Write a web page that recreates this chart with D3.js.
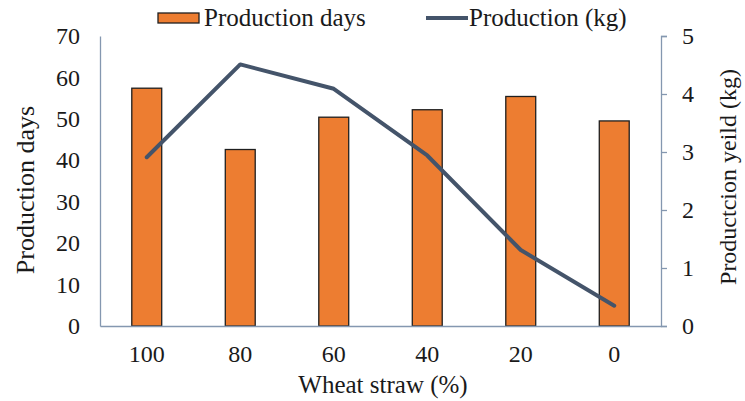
<!DOCTYPE html>
<html>
<head>
<meta charset="utf-8">
<script src="https://cdn.jsdelivr.net/npm/d3@7"></script>
<style>
  html, body { margin: 0; padding: 0; background: #fff; }
  svg { display: block; font-family: "Liberation Serif", "Times New Roman", serif; }
</style>
</head>
<body>
<svg id="chart" width="745" height="401"></svg>
<script>
// Wheat straw share in substrate vs. production days and yield
const categories = ["100", "80", "60", "40", "20", "0"];
const productionDays = [57.4, 42.6, 50.4, 52.2, 55.4, 49.5];
const productionKg = [2.91, 4.51, 4.09, 2.94, 1.31, 0.35];
const leftTicks = [0, 10, 20, 30, 40, 50, 60, 70];
const rightTicks = [0, 1, 2, 3, 4, 5];

const svg = d3.select("#chart");
const margin = { left: 100, right: 84, top: 36, bottom: 75 };
const W = 745, H = 401;
const x0 = margin.left, x1 = W - margin.right;
const yTop = margin.top, yBot = H - margin.bottom;

const axisColor = "#8497B0";
const barColor = "#ED7D31";
const lineColor = "#44546A";
const textColor = "#1a1a1a";
const serif = "Liberation Serif";

const x = d3.scaleBand().domain(categories).range([x0, x1]).paddingInner(0).paddingOuter(0);
const yL = d3.scaleLinear().domain([0, 70]).range([yBot, yTop]);
const yR = d3.scaleLinear().domain([0, 5]).range([yBot, yTop]);

const barW = x.bandwidth() * 0.32;

// bars
svg.append("g").selectAll("rect")
  .data(productionDays)
  .join("rect")
  .attr("x", (d, i) => x(categories[i]) + x.bandwidth() / 2 - barW / 2)
  .attr("y", d => yL(d))
  .attr("width", barW)
  .attr("height", d => yL(0) - yL(d))
  .attr("fill", barColor)
  .attr("stroke", "#1f1f1f")
  .attr("stroke-width", 1.3);

// left axis (no ticks)
const gL = svg.append("g").attr("transform", `translate(${x0},0)`)
  .call(d3.axisLeft(yL).tickValues(leftTicks).tickSize(0).tickPadding(20));
gL.select(".domain").attr("stroke", axisColor).attr("stroke-width", 1.3);
gL.selectAll("text").attr("font-family", serif).attr("font-size", 24).attr("fill", textColor);

// right axis
const gR = svg.append("g").attr("transform", `translate(${x1},0)`)
  .call(d3.axisRight(yR).tickValues(rightTicks).tickFormat(d3.format("d"))
    .tickSizeInner(6).tickSizeOuter(6).tickPadding(15));
gR.select(".domain").attr("stroke", axisColor).attr("stroke-width", 1.3);
gR.selectAll(".tick line").attr("stroke", axisColor).attr("stroke-width", 1.3);
gR.selectAll("text").attr("font-family", serif).attr("font-size", 24).attr("fill", textColor);

// bottom axis
const gB = svg.append("g").attr("transform", `translate(0,${yBot})`)
  .call(d3.axisBottom(x).tickSize(0).tickPadding(19));
gB.select(".domain").attr("stroke", axisColor).attr("stroke-width", 1.3);
gB.selectAll("text").attr("font-family", serif).attr("font-size", 24).attr("fill", textColor);

// line
const line = d3.line()
  .x((d, i) => x(categories[i]) + x.bandwidth() / 2)
  .y(d => yR(d));
svg.append("path")
  .datum(productionKg)
  .attr("d", line)
  .attr("fill", "none")
  .attr("stroke", lineColor)
  .attr("stroke-width", 4)
  .attr("stroke-linejoin", "round")
  .attr("stroke-linecap", "round");

// axis titles
svg.append("text")
  .attr("transform", `translate(34,${190}) rotate(-90)`)
  .attr("text-anchor", "middle")
  .attr("font-family", serif).attr("font-size", 26).attr("fill", textColor)
  .text("Production days");

svg.append("text")
  .attr("transform", `translate(736,${177}) rotate(-90)`)
  .attr("text-anchor", "middle")
  .attr("font-family", serif).attr("font-size", 24).attr("fill", textColor)
  .text("Productcion yeild (kg)");

svg.append("text")
  .attr("x", 383)
  .attr("y", 393)
  .attr("text-anchor", "middle")
  .attr("font-family", serif).attr("font-size", 25).attr("fill", textColor)
  .text("Wheat straw (%)");

// legend
const lg = svg.append("g");
lg.append("rect")
  .attr("x", 158).attr("y", 13).attr("width", 41).attr("height", 10)
  .attr("fill", barColor).attr("stroke", "#1f1f1f").attr("stroke-width", 1.3);
lg.append("text")
  .attr("x", 204).attr("y", 26)
  .attr("font-family", serif).attr("font-size", 25).attr("fill", textColor)
  .text("Production days");
lg.append("line")
  .attr("x1", 426).attr("x2", 468).attr("y1", 18).attr("y2", 18)
  .attr("stroke", lineColor).attr("stroke-width", 4);
lg.append("text")
  .attr("x", 469).attr("y", 26)
  .attr("font-family", serif).attr("font-size", 25).attr("fill", textColor)
  .text("Production (kg)");
</script>
</body>
</html>
